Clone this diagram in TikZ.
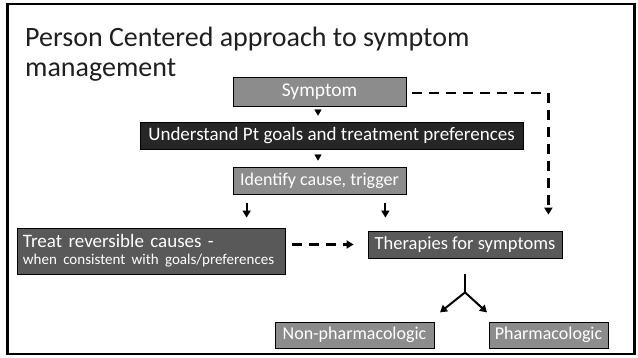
\documentclass[tikz,border=0pt]{standalone}
\usepackage{fontspec}
\setmainfont{Carlito}
\usetikzlibrary{arrows.meta,calc}
\definecolor{boxlight}{HTML}{8C8C8C}
\definecolor{boxdark}{HTML}{262626}
\definecolor{boxmid}{HTML}{595959}
\definecolor{titlecol}{HTML}{1F1F1F}
\tikzset{
  box/.style={draw=black,line width=0.8pt,inner sep=0pt,text=white,
    font=\fontsize{19}{21}\selectfont},
  fs/.style={font=\fontsize{#1}{#1}\selectfont},
  arr/.style={line width=2pt,-{Triangle[width=8pt,length=7pt]}},
  tri/.style={line width=0.3pt,-{Triangle[width=7pt,length=6pt]}},
  dashln/.style={line width=2.5pt,dash pattern=on 10pt off 7pt},
  titletext/.style={anchor=base west,inner sep=0pt,text=titlecol,font=\fontsize{28}{29}\selectfont}
}
\begin{document}
\begin{tikzpicture}[x=1pt,y=-1pt]
\useasboundingbox (0,0) rectangle (638,358);
\draw[line width=2.5pt] (7.5,4) rectangle (634.5,354);
\node[titletext] (title) at (25,47) {Person Centered approach to symptom};
\node[titletext] (title2) at (25,77) {management};
\node[box,fs=19.5,fill=boxlight,minimum width=173pt,minimum height=29pt] (sym) at (319.5,91.5) {Symptom};
\node[box,fill=boxdark,minimum width=383pt,minimum height=27pt] (und) at (331.5,135.5) {Understand Pt goals and treatment preferences};
\node[box,fs=18,fill=boxlight,minimum width=173pt,minimum height=27pt] (idc) at (319.5,180.5) {Identify cause, trigger};
\node[box,fill=boxmid,minimum width=268pt,minimum height=46pt,text width=256pt,inner xsep=6pt,align=left] (trt) at (151,251) {Treat reversible causes -\\[-4pt]{\fontsize{15}{16}\selectfont when consistent with goals/preferences}};
\node[box,fs=18.5,fill=boxmid,minimum width=194pt,minimum height=27pt] (ther) at (465,244.5) {Therapies for symptoms};
\node[box,fs=18,fill=boxlight,minimum width=159pt,minimum height=26pt] (nonph) at (354.5,335) {Non-pharmacologic};
\node[box,fs=18,fill=boxlight,minimum width=119pt,minimum height=26pt] (pharm) at (548.5,335) {Pharmacologic};
% small triangles
\draw[tri,shorten <=4pt,shorten >=6pt] ([xshift=-1.5pt]sym.south) -- ([xshift=-1.5pt]sym.south |- und.north);
\draw[tri,shorten <=6pt,shorten >=6pt] ([xshift=-13.5pt]und.south) -- ([xshift=-13.5pt]und.south |- idc.north);
% arrows from identify
\coordinate (a1) at ($(idc.south west)+(14,9)$);
\coordinate (a2) at ($(idc.south east)+(-21,9)$);
\draw[arr,shorten >=10pt] (a1) -- (a1 |- trt.north);
\draw[arr,shorten >=13pt] (a2) -- (a2 |- ther.north);
% dashed from symptom
\coordinate (d1) at ($(sym.east)+(6,1.5)$);
\coordinate (d2) at ($(ther.north east)+(-14,0)$);
\draw[dashln] (d1) -| ($(d2)+(0,-22)$);
\draw[arr] ($(d2)+(0,-22)$) -- ($(d2)+(0,-16)$);
% dashed treat -> therapies
\draw[dashln,-{Triangle[width=8pt,length=7pt]},shorten <=7pt,shorten >=14pt] (trt.east |- ther.west) -- (ther.west);
% fork
\coordinate (f0) at ($(ther.south)+(0,16)$);
\coordinate (f1) at ($(ther.south)+(0,34)$);
\coordinate (fl) at ($(f1)+(-25,20)$);
\coordinate (fr) at ($(f1)+(22,20)$);
\draw[line width=2pt] (f0) -- (f1);
\draw[arr] (f1) -- (fl);
\draw[arr] (f1) -- (fr);
\end{tikzpicture}
\end{document}
